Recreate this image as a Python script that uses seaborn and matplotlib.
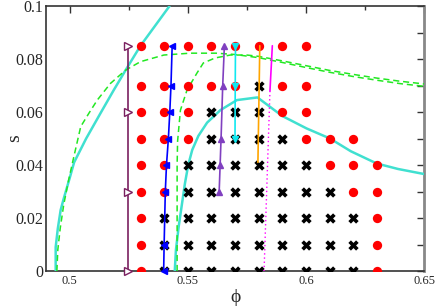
import numpy as np
import pandas as pd
import matplotlib
matplotlib.use('Agg')
import matplotlib.pyplot as plt
import seaborn as sns
from matplotlib.ticker import MultipleLocator, FixedFormatter, FixedLocator

sns.set_style("white")
plt.rcParams['font.family'] = ['Liberation Serif', 'DejaVu Serif']

# grid of simulation points: 'o' = red circle, 'x' = black cross, '.' = none
phi_cols = [0.53, 0.54, 0.55, 0.56, 0.57, 0.58, 0.59, 0.60, 0.61, 0.62, 0.63]
s_rows = [0.0, 0.01, 0.02, 0.03, 0.04, 0.05, 0.06, 0.07, 0.085]
row_codes = ["oxxxxxxxxxo",
             "oxxxxxxxxxo",
             "oxxxxxxxxxo",
             "ooxxxxxxxoo",
             "ooxxxxxxooo",
             "oooxxxxooo.",
             "oooxxxoo...",
             "oooooxoo...",
             "oooooooo..."]

# turquoise boundary curves
turq_left_phi = [0.4941, 0.4941, 0.4950, 0.4962, 0.4974, 0.5000, 0.5019, 0.5070,
                 0.5131, 0.5185, 0.5237, 0.5300, 0.5423]
turq_left_s = [0.0, 0.009, 0.016, 0.023, 0.027, 0.035, 0.041, 0.050,
               0.0596, 0.068, 0.0758, 0.085, 0.100]
turq_mid_phi = [0.5445, 0.5450, 0.5462, 0.5475, 0.5488, 0.5502, 0.5519, 0.5545, 0.5582,
                0.5638, 0.5708, 0.5795, 0.5900, 0.6003, 0.6102, 0.6190, 0.6299,
                0.6390, 0.6500]
turq_mid_s = [0.0, 0.008, 0.017, 0.025, 0.033, 0.040, 0.0457, 0.051, 0.056,
              0.0607, 0.0645, 0.0655, 0.0585, 0.0538, 0.0500, 0.0452, 0.0406,
              0.0385, 0.0366]

# green dashed curves
green_a_phi = [0.4946, 0.4950, 0.4960, 0.4975, 0.4995, 0.5015, 0.5047, 0.5082,
               0.5117, 0.5173, 0.5237, 0.5300, 0.5399, 0.5510, 0.5620, 0.5700,
               0.5800, 0.5900, 0.6000, 0.6100, 0.6200, 0.6300, 0.6400, 0.6500]
green_a_s = [0.0, 0.008, 0.016, 0.025, 0.034, 0.042, 0.0545, 0.0596,
             0.0645, 0.0708, 0.0758, 0.0790, 0.0815, 0.0822, 0.0822, 0.0817,
             0.0805, 0.0787, 0.0768, 0.0750, 0.0734, 0.0720, 0.0707, 0.0697]
green_b_phi = [0.5455, 0.5455, 0.5455, 0.5457, 0.5469, 0.5497, 0.5539, 0.5566,
               0.5616, 0.5680, 0.5750, 0.5800, 0.5900, 0.6000, 0.6100, 0.6200,
               0.6300, 0.6400, 0.6500]
green_b_s = [0.0, 0.020, 0.040, 0.049, 0.0607, 0.0683, 0.0747, 0.0785,
             0.0804, 0.0815, 0.0815, 0.0810, 0.0793, 0.0775, 0.0757, 0.0742,
             0.0728, 0.0716, 0.0706]

# vertical runs with markers
maroon_phi = [0.5245, 0.5245, 0.5245, 0.5245]
maroon_s = [0.0, 0.03, 0.06, 0.085]
blue_phi = [0.5398, 0.5400, 0.5405, 0.5410, 0.5418, 0.5424, 0.5429, 0.5434]
blue_s = [0.0, 0.01, 0.03, 0.04, 0.05, 0.06, 0.07, 0.085]
purple_phi = [0.5633, 0.5637, 0.5641, 0.5648, 0.5655]
purple_s = [0.03, 0.04, 0.05, 0.07, 0.085]
cyan_phi = [0.5702, 0.5701, 0.5700]
cyan_s = [0.085, 0.07, 0.05]
orange_phi = [0.5805, 0.5797]
orange_s = [0.085, 0.041]
magenta_phi = [0.5858, 0.5848]
magenta_s = [0.085, 0.068]
magenta_dot_phi = [0.5848, 0.5823]
magenta_dot_s = [0.068, 0.0]

pts = []
for s, code in zip(s_rows, row_codes):
    for phi, c in zip(phi_cols, code):
        if c != '.':
            pts.append({'phi': phi, 's': s, 'state': c})
df = pd.DataFrame(pts)

fig = plt.figure(figsize=(4.36, 3.08), dpi=100)
ax = fig.add_axes([0.1055, 0.1201, 0.8670, 0.8604])

turq = '#40e0d0'
green = '#22e822'
ax.plot(turq_left_phi, turq_left_s, color=turq, lw=1.8, zorder=3)
ax.plot(turq_mid_phi, turq_mid_s, color=turq, lw=1.8, zorder=3)
ax.plot(green_a_phi, green_a_s, color=green, lw=1.1, ls=(0, (4, 2.5)), zorder=3)
ax.plot(green_b_phi, green_b_s, color=green, lw=1.1, ls=(0, (4, 2.5)), zorder=3)

sns.scatterplot(data=df[df.state == 'o'], x='phi', y='s', color='#ff0000',
                marker='o', s=45, linewidth=0, ax=ax, zorder=4)
sns.scatterplot(data=df[df.state == 'x'], x='phi', y='s', color='black',
                marker='X', s=55, linewidth=0, ax=ax, zorder=4)

ax.plot(maroon_phi, maroon_s, color='#7a2060', lw=1.2, marker='>', ms=6,
        mfc='white', mec='#7a2060', mew=1.0, zorder=5, clip_on=False)
ax.plot(blue_phi, blue_s, color='#0000ff', lw=1.2, marker='<', ms=4.5, zorder=5, clip_on=False)
ax.plot(purple_phi, purple_s, color='#8040c0', lw=1.2, marker='^', ms=4.5, zorder=5)
ax.plot(cyan_phi, cyan_s, color='#10e8f0', lw=1.2, marker='v', ms=4.5, zorder=5)
ax.plot(orange_phi, orange_s, color='#ffa500', lw=1.2, zorder=5)
ax.plot(magenta_phi, magenta_s, color='#ff00ff', lw=1.2, zorder=5)
ax.plot(magenta_dot_phi, magenta_dot_s, color='#ff00ff', lw=1.0, ls=(0, (1, 2)), zorder=5)

ax.set_xlim(0.49, 0.65)
ax.set_ylim(0, 0.1)

ax.xaxis.set_major_locator(FixedLocator([0.5, 0.55, 0.6, 0.65]))
ax.xaxis.set_major_formatter(FixedFormatter(['0.5', '0.55', '0.6', '0.65']))
ax.xaxis.set_minor_locator(FixedLocator([0.525, 0.575, 0.625]))
ax.yaxis.set_major_locator(FixedLocator([0, 0.02, 0.04, 0.06, 0.08, 0.1]))
ax.yaxis.set_major_formatter(FixedFormatter(['0', '0.02', '0.04', '0.06', '0.08', '0.1']))
ax.yaxis.set_minor_locator(MultipleLocator(0.01))

ax.tick_params(axis='both', which='both', direction='in', top=True, right=True,
               color='#333333', width=1.0)
ax.tick_params(axis='x', which='major', length=5, labelsize=9, pad=3)
ax.tick_params(axis='x', which='minor', length=3)
ax.tick_params(axis='y', which='major', length=5, labelsize=11.5, pad=2)
ax.tick_params(axis='y', which='minor', length=5)

for side in ['left', 'bottom', 'top']:
    ax.spines[side].set_color('#333333')
    ax.spines[side].set_linewidth(1.2)
ax.spines['right'].set_color('#888888')
ax.spines['right'].set_linewidth(2.0)

ax.set_xlabel('ϕ', fontsize=14, labelpad=1)
ax.set_ylabel('s', fontsize=14)
ax.yaxis.set_label_coords(-0.06, 0.5)

fig.savefig('out.png', dpi=100)
